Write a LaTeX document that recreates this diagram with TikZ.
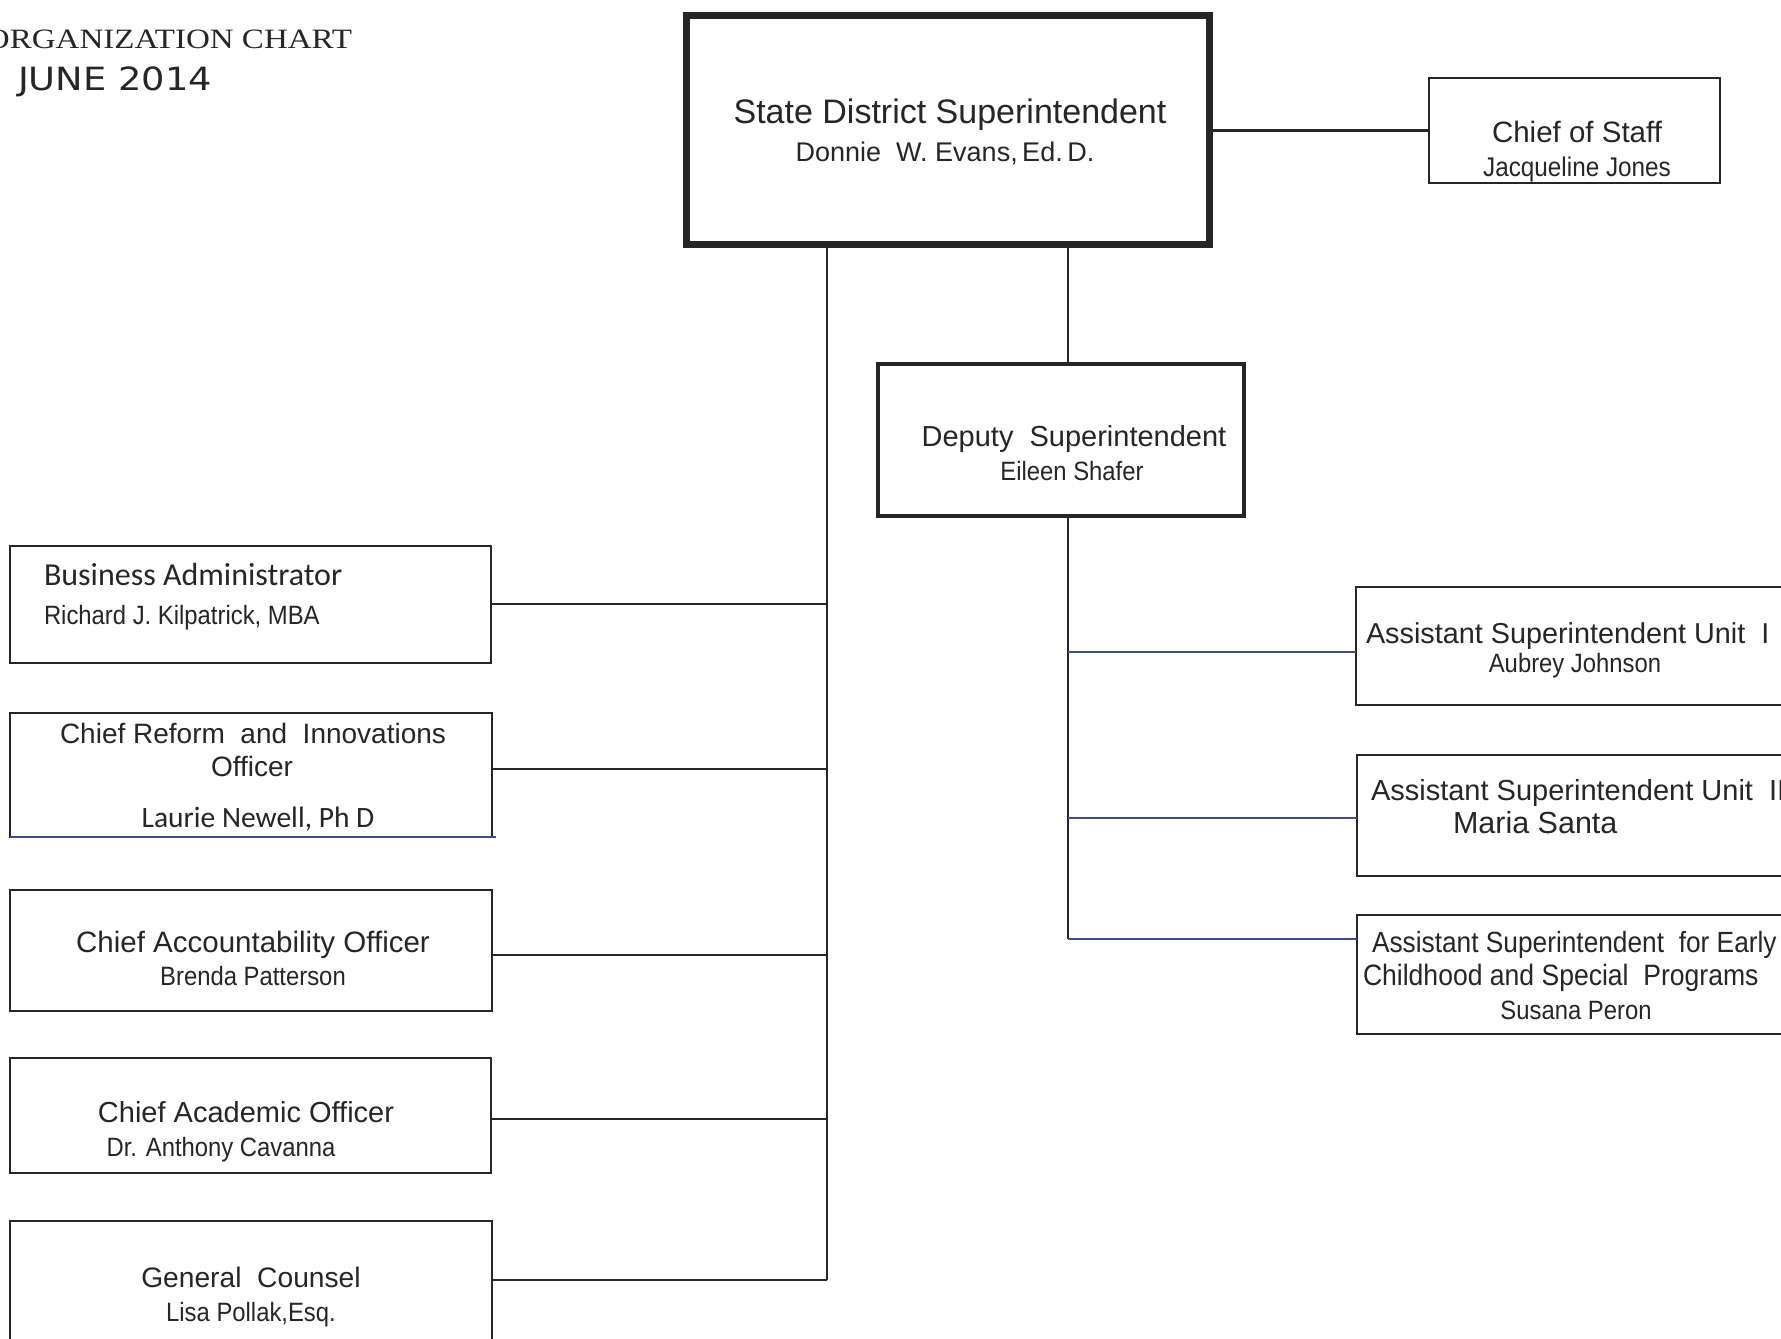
\documentclass[tikz,border=0pt]{standalone}
\usepackage{fontspec}
\setmainfont{Liberation Sans}
\newfontfamily\arialf{Liberation Sans}
\newfontfamily\narrowf[FakeStretch=0.9]{Liberation Sans}
\newfontfamily\calibf{Carlito}
\newfontfamily\titlef[FakeStretch=1.18]{Liberation Serif}
\newfontfamily\junef[FakeStretch=1.15]{DejaVu Sans}
\newcommand{\fsz}[1]{\fontsize{#1}{#1}\selectfont}
\definecolor{ink}{HTML}{262626}
\definecolor{inkblue}{HTML}{3F4C86}
\tikzset{
  box/.style={draw=ink, line width=2.2pt, inner sep=0pt, outer sep=0pt},
  txt/.style={inner sep=0pt, outer sep=0pt, text=ink},
  con/.style={draw=ink, line width=2.2pt},
  bcon/.style={draw=inkblue, line width=2pt},
}
\begin{document}
\begin{tikzpicture}[x=1pt,y=-1pt]
\useasboundingbox (0,0) rectangle (1781,1339);
\clip (0,0) rectangle (1781,1339);
\fill[white] (0,0) rectangle (1781,1339);

% title
\node[txt, anchor=base east] (title) at (352,48) {\titlef\fsz{28}ORGANIZATION CHART};
\node[txt, anchor=base west] (june) at (18,90) {\junef\fsz{32}JUNE 2014};

% boxes
\node[box, line width=7pt, minimum width=523pt, minimum height=229pt, anchor=center] (sup) at (948,130) {};
\node[box, minimum width=291pt, minimum height=105pt] (cos) at (1574.5,130.5) {};
\node[box, line width=3.5pt, minimum width=366pt, minimum height=152pt] (dep) at (1061,440) {};

\node[box, minimum width=481pt, minimum height=117pt] (ba) at (250.5,604.5) {};
\node[box, minimum width=482pt, minimum height=124pt] (cr) at (251,775) {};
\node[box, minimum width=482pt, minimum height=121pt] (ca) at (251,950.5) {};
\node[box, minimum width=481pt, minimum height=115pt] (cac) at (250.5,1115.5) {};
\node[box, minimum width=482pt, minimum height=140pt] (gc) at (251,1291) {};

\node[box, minimum width=460pt, minimum height=118pt] (u1) at (1586,646) {};
\node[box, minimum width=460pt, minimum height=121pt] (u2) at (1587,815.5) {};
\node[box, minimum width=460pt, minimum height=119pt] (ec) at (1587,974.5) {};

% blue bottom edge of Chief Reform box
\draw[bcon] (10,837) -- (496,837);

% junction coordinates
\coordinate (jL1) at (827,604);
\coordinate (jL2) at (827,769);
\coordinate (jL3) at (827,955);
\coordinate (jL4) at (827,1119);
\coordinate (jL5) at (827,1280);
\coordinate (jR1) at (1068,652);
\coordinate (jR2) at (1068,818);
\coordinate (jR3) at (1068,939);
\coordinate (jT) at (1068,248);

% connectors
\draw[con] (sup.east |- cos.west) -- (cos.west);
\draw[con] (jT) -- (jT |- dep.north);
\draw[con] (sup.south -| jL1) -- (jL5);
\draw[con] (ba.east |- jL1) -- (jL1);
\draw[con] (cr.east |- jL2) -- (jL2);
\draw[con] (ca.east |- jL3) -- (jL3);
\draw[con] (cac.east |- jL4) -- (jL4);
\draw[con] (gc.east |- jL5) -- (jL5);
\draw[con] (dep.south -| jR1) -- (jR3);
\draw[bcon] (jR1) -- (u1.west |- jR1);
\draw[bcon] (jR2) -- (u2.west |- jR2);
\draw[bcon] (jR3) -- (ec.west |- jR3);

% texts
\node[txt, anchor=base] (t1) at (950,123) {\arialf\fsz{34}State District\ Superintendent};
\node[txt, anchor=base] (t2) at (945,161) {\arialf\fsz{27}Donnie\ \ W. Evans,\,Ed.\,D.};
\node[txt, anchor=base] (t3) at (1577,142) {\arialf\fsz{29.5}Chief of\ Staff};
\node[txt, anchor=base] (t4) at (1577,176) {\narrowf\fsz{27}Jacqueline Jones};
\node[txt, anchor=base] (t5) at (1074,446) {\arialf\fsz{29}Deputy\ \ Superintendent};
\node[txt, anchor=base] (t6) at (1072,480) {\narrowf\fsz{26.5}Eileen Shafer};

\node[txt, anchor=base west] (t7) at (44,585) {\calibf\fsz{32}Business Administrator};
\node[txt, anchor=base west] (t8) at (44,624) {\narrowf\fsz{26.5}Richard J. Kilpatrick, MBA};
\node[txt, anchor=base] (t9) at (253,743) {\arialf\fsz{28}Chief Reform\ \ and\ \ Innovations};
\node[txt, anchor=base] (t10) at (252,776) {\arialf\fsz{28}Officer};
\node[txt, anchor=base] (t11) at (258,827) {\calibf\fsz{29.5}Laurie Newell, Ph D};
\node[txt, anchor=base] (t12) at (253,952) {\arialf\fsz{29.5}Chief Accountability Officer};
\node[txt, anchor=base] (t13) at (253,985) {\narrowf\fsz{26.5}Brenda Patterson};
\node[txt, anchor=base] (t14) at (246,1122) {\arialf\fsz{29}Chief Academic Officer};
\node[txt, anchor=base] (t15) at (221,1156) {\narrowf\fsz{26.5}Dr. Anthony Cavanna};
\node[txt, anchor=base] (t16) at (251,1287) {\arialf\fsz{28.2}General\ \ Counsel};
\node[txt, anchor=base] (t17) at (251,1321) {\narrowf\fsz{26.5}Lisa Pollak,Esq.};

\node[txt, anchor=base west] (t18) at (1366,643) {\arialf\fsz{28.8}Assistant Superintendent Unit\ \ I};
\node[txt, anchor=base] (t19) at (1575,672) {\narrowf\fsz{26.5}Aubrey Johnson};
\node[txt, anchor=base west] (t20) at (1371,800) {\arialf\fsz{29}Assistant Superintendent Unit\ \ II};
\node[txt, anchor=base west] (t21) at (1453,833) {\arialf\fsz{30.5}Maria Santa};
\node[txt, anchor=base west] (t22) at (1372,952) {\narrowf\fsz{29.2}Assistant Superintendent\ \ for Early};
\node[txt, anchor=base west] (t23) at (1363,985) {\narrowf\fsz{29.5}Childhood and Special\ \ Programs};
\node[txt, anchor=base] (t24) at (1576,1019) {\narrowf\fsz{26.5}Susana Peron};
\end{tikzpicture}
\end{document}
